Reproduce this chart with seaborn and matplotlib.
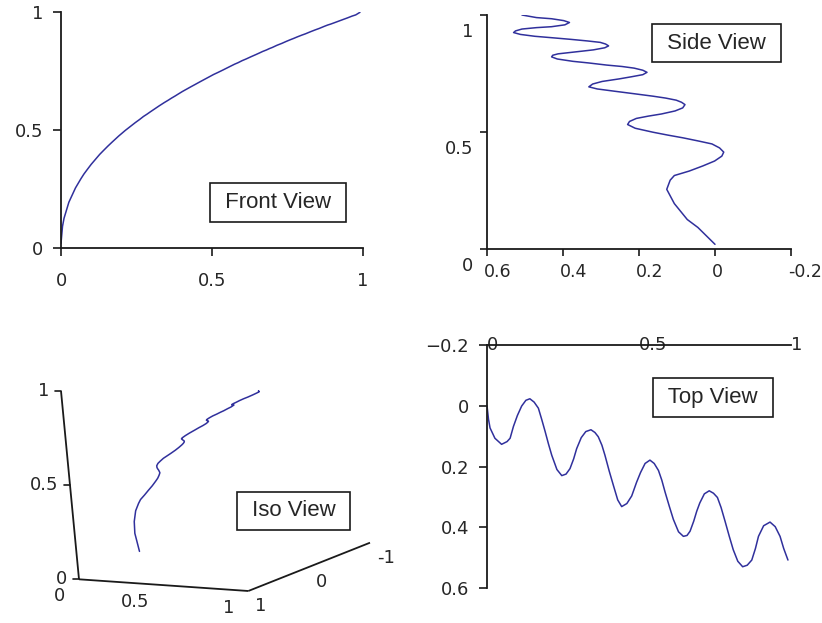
import numpy as np
import matplotlib
matplotlib.use('Agg')
import matplotlib.pyplot as plt
import matplotlib.transforms as mtransforms
import seaborn as sns

# curve (x = across, y = depth, z = height)
x_vals = [0.000, 0.005, 0.010, 0.026, 0.048, 0.066, 0.076, 0.087, 0.100, 0.114,
          0.128, 0.141, 0.155, 0.169, 0.180, 0.191, 0.202, 0.213, 0.230, 0.246,
          0.260, 0.273, 0.285, 0.295, 0.310, 0.325, 0.342, 0.355, 0.366, 0.378,
          0.388, 0.402, 0.416, 0.430, 0.443, 0.460, 0.476, 0.492, 0.505, 0.520,
          0.536, 0.550, 0.564, 0.575, 0.586, 0.600, 0.613, 0.630, 0.646, 0.658,
          0.668, 0.680, 0.690, 0.700, 0.715, 0.731, 0.745, 0.758, 0.770, 0.783,
          0.797, 0.810, 0.825, 0.841, 0.856, 0.871, 0.883, 0.893, 0.910, 0.931,
          0.948, 0.964, 0.976, 0.990]
y_vals = [0.000, 0.045, 0.073, 0.107, 0.127, 0.118, 0.107, 0.068, 0.032, 0.001,
          -0.018, -0.023, -0.012, 0.008, 0.045, 0.084, 0.125, 0.163, 0.210, 0.230,
          0.225, 0.207, 0.175, 0.141, 0.105, 0.085, 0.079, 0.088, 0.102, 0.130,
          0.163, 0.215, 0.263, 0.310, 0.332, 0.322, 0.297, 0.252, 0.220, 0.190,
          0.179, 0.190, 0.213, 0.245, 0.285, 0.332, 0.374, 0.415, 0.430, 0.427,
          0.413, 0.380, 0.347, 0.320, 0.290, 0.280, 0.288, 0.302, 0.335, 0.380,
          0.430, 0.474, 0.512, 0.530, 0.525, 0.508, 0.470, 0.430, 0.395, 0.383,
          0.398, 0.430, 0.470, 0.508]
z_vals = [0.020, 0.092, 0.126, 0.194, 0.255, 0.294, 0.314, 0.333, 0.355, 0.376,
          0.397, 0.414, 0.432, 0.449, 0.462, 0.475, 0.487, 0.499, 0.516, 0.532,
          0.545, 0.558, 0.568, 0.577, 0.590, 0.603, 0.617, 0.627, 0.636, 0.645,
          0.653, 0.664, 0.674, 0.684, 0.693, 0.705, 0.716, 0.727, 0.736, 0.745,
          0.755, 0.764, 0.773, 0.780, 0.786, 0.795, 0.802, 0.812, 0.821, 0.828,
          0.834, 0.840, 0.846, 0.851, 0.860, 0.868, 0.876, 0.883, 0.889, 0.896,
          0.903, 0.909, 0.917, 0.925, 0.932, 0.940, 0.946, 0.950, 0.958, 0.968,
          0.976, 0.984, 0.989, 1.000]

front_xticks = [0, 0.5, 1]
front_yticks = [0, 0.5, 1]
side_xticks = [0.6, 0.4, 0.2, 0, -0.2]
side_yticks = [0, 0.5, 1]
top_xticks = [0, 0.5, 1]
top_yticks = [-0.2, 0, 0.2, 0.4, 0.6]
iso_xticks = [0, 0.5, 1]
iso_yticks = [1, 0, -1]
iso_zticks = [0, 0.5, 1]

x_arr = np.array(x_vals)
y_arr = np.array(y_vals)
z_arr = np.array(z_vals)

sns.set_style('white')
plt.rcParams['font.family'] = ['DejaVu Sans']

LINE = '#30309c'
AX = '#1a1a1a'
W, H = 822, 623
fig = plt.figure(figsize=(W / 100, H / 100), dpi=100)


def px_axes(left, top, right, bottom):
    return fig.add_axes([left / W, 1 - bottom / H, (right - left) / W, (bottom - top) / H])


def fmt(v, minus='-'):
    return ('%g' % v).replace('-', minus)


def view_label(ax, x, y, text, transform=None):
    ax.text(x, y, ' ' + text + ' ', fontsize=16, family='Liberation Sans',
            ha='center', va='center', transform=transform or ax.transData,
            bbox=dict(boxstyle='square,pad=0.4', fc='white', ec=AX, lw=1.2))


def style(ax, keep):
    for side in ['left', 'right', 'top', 'bottom']:
        ax.spines[side].set_visible(side in keep)
        ax.spines[side].set_color(AX)
        ax.spines[side].set_linewidth(1.3)
    ax.set_facecolor('white')


# Front view: z against x
ax = px_axes(61, 12.3, 363, 248)
sns.lineplot(x=x_arr, y=z_arr, sort=False, estimator=None, ax=ax, color=LINE, linewidth=1.1)
ax.set_xlim(0, 1)
ax.set_ylim(0, 1)
style(ax, ['left', 'bottom'])
ax.set_xticks(front_xticks, [fmt(v) for v in front_xticks])
ax.set_yticks(front_yticks, [fmt(v) for v in front_yticks])
ax.tick_params(axis='x', bottom=True, direction='out', length=6, width=1.2, color=AX, pad=11, labelsize=13)
ax.tick_params(axis='y', left=True, direction='out', length=6, width=1.2, color=AX, pad=7, labelsize=13)
ax.set_xlabel('')
ax.set_ylabel('')
view_label(ax, 0.719, 0.193, 'Front View')

# Side view: z against y (reversed)
ax = px_axes(487, 15, 791, 249)
sns.lineplot(x=y_arr, y=z_arr, sort=False, estimator=None, ax=ax, color=LINE, linewidth=1.1)
ax.set_xlim(0.6, -0.2)
ax.set_ylim(0, 1)
style(ax, ['left', 'bottom'])
ax.set_xticks(side_xticks, [fmt(v) for v in side_xticks])
ax.set_yticks(side_yticks, [fmt(v) for v in side_yticks])
ax.tick_params(axis='x', bottom=True, direction='out', length=5, width=1.2, color=AX, pad=5, labelsize=12.5)
ax.tick_params(axis='y', left=True, direction='out', length=5, width=1.2, color=AX, pad=5, labelsize=13)
xshift = mtransforms.ScaledTranslation(-0.03, 0, fig.dpi_scale_trans)
for lbl in ax.get_xticklabels():
    lbl.set_ha('left')
    lbl.set_transform(lbl.get_transform() + xshift)
shift = mtransforms.ScaledTranslation(0, -0.15, fig.dpi_scale_trans)
for lbl in ax.get_yticklabels():
    lbl.set_transform(lbl.get_transform() + shift)
ax.set_xlabel('')
ax.set_ylabel('')
view_label(ax, -0.003, 0.88, 'Side View')

# Top view: y (downwards) against x
ax = px_axes(487, 345, 791, 588)
sns.lineplot(x=x_arr, y=y_arr, sort=False, estimator=None, ax=ax, color=LINE, linewidth=1.1)
ax.set_xlim(0, 1)
ax.set_ylim(0.6, -0.2)
style(ax, ['left', 'top'])
ax.xaxis.tick_top()
ax.set_xticks(top_xticks, [fmt(v) for v in top_xticks])
ax.set_yticks(top_yticks, [fmt(v, '\u2212') for v in top_yticks])
ax.tick_params(axis='x', length=0, pad=0, labelsize=13)
ax.tick_params(axis='y', left=True, direction='out', length=6, width=1.2, color=AX, pad=7, labelsize=13)
for lbl in ax.get_xticklabels():
    lbl.set_ha('left')
    lbl.set_va('center')
ax.set_xlabel('')
ax.set_ylabel('')
view_label(ax, 0.743, -0.027, 'Top View')

# Iso view: oblique projection drawn in pixel space
ax = px_axes(0, 311.5, 411, 623)
ax.set_xlim(0, 411)
ax.set_ylim(623, 311.5)
ax.axis('off')
origin = np.array([79.0, 579.3])
ex = np.array([169.3, 11.7])
ey = np.array([121.7, -48.3])
ez = np.array([-18.0, -188.3])


def project(xs, ys, zs):
    xs, ys, zs = np.asarray(xs, float), np.asarray(ys, float), np.asarray(zs, float)
    u = origin[0] + ex[0] * xs + ey[0] * (1 - ys) / 2 + ez[0] * zs
    v = origin[1] + ex[1] * xs + ey[1] * (1 - ys) / 2 + ez[1] * zs
    return u, v


for a, b in [((0, 1, 0), (0, 1, 1)), ((0, 1, 0), (1, 1, 0)), ((1, 1, 0), (1, -1, 0))]:
    u, v = project(*zip(a, b))
    ax.plot(u, v, color=AX, lw=1.3, solid_capstyle='butt')

u, v = project(x_arr, y_arr, z_arr)
sns.lineplot(x=u, y=v, sort=False, estimator=None, ax=ax, color=LINE, linewidth=1.1)
ax.set_xlim(0, 411)
ax.set_ylim(623, 311.5)

for t in iso_zticks:
    u, v = project(0, 1, t)
    ax.plot([u - 6, u], [v, v], color=AX, lw=1.2)
    ax.text(u - 12, v, fmt(t), ha='right', va='center', fontsize=13)
for t in iso_xticks:
    u, v = project(t, 1, 0)
    ax.text(u - 14, v + 17, fmt(t), ha='right', va='center', fontsize=13)
for t in iso_yticks:
    u, v = project(1, t, 0)
    ax.text(u + 7, v + 15, fmt(t), ha='left', va='center', fontsize=13)
view_label(ax, 293.5, 511, 'Iso View')

fig.savefig('out.png', dpi=100, facecolor='white')
